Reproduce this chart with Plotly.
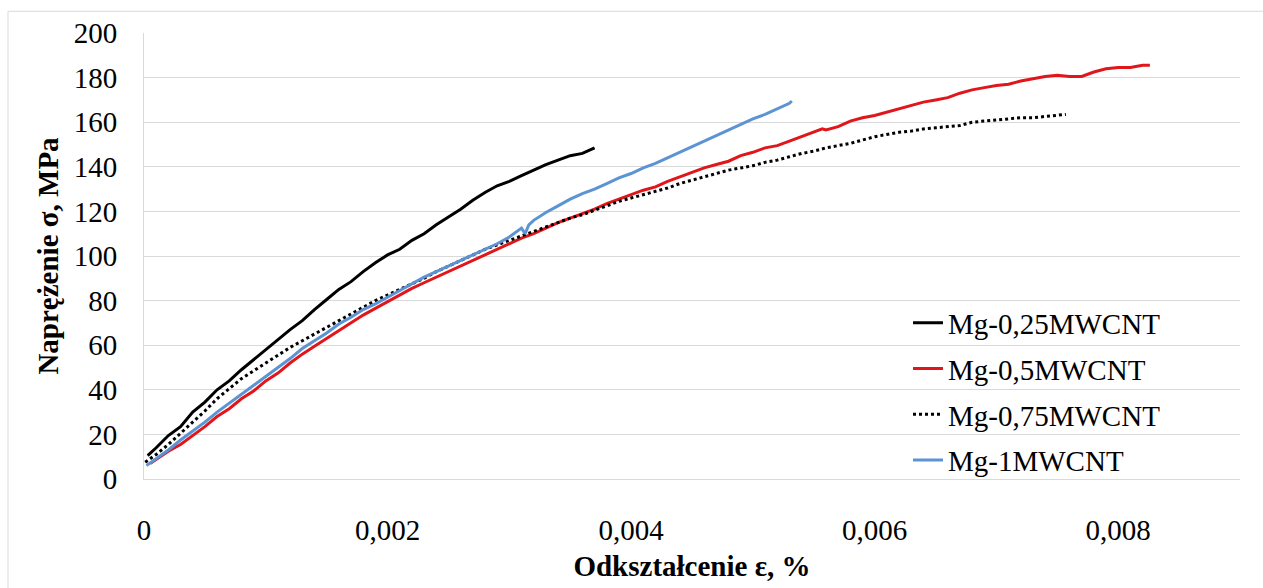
import plotly.graph_objects as go

# Stress-strain curves of Mg composites with MWCNT additions
names = ["Mg-0,25MWCNT", "Mg-0,5MWCNT", "Mg-0,75MWCNT", "Mg-1MWCNT"]

eps_025 = [0.00003, 0.0001, 0.0002, 0.0003, 0.0004, 0.0005, 0.0006, 0.0007, 0.0008, 0.0009,
           0.001, 0.0011, 0.0012, 0.0013, 0.0014, 0.0015, 0.0016, 0.0017, 0.0018, 0.0019,
           0.002, 0.0021, 0.0022, 0.0023, 0.0024, 0.0025, 0.0026, 0.0027, 0.0028, 0.0029,
           0.003, 0.0031, 0.0032, 0.0033, 0.0034, 0.0035, 0.0036, 0.0037]
sig_025 = [10.5, 14.0, 19.5, 23.5, 30.0, 34.5, 40.0, 44.0, 49.0, 53.5,
           58.0, 62.5, 67.0, 71.0, 76.0, 80.5, 85.0, 88.5, 93.0, 97.0,
           100.5, 103.0, 107.0, 110.0, 114.0, 117.5, 121.0, 125.0, 128.5, 131.5,
           133.5, 136.0, 138.5, 141.0, 143.0, 145.0, 146.0, 148.5]

eps_05 = [0.00005, 0.0002, 0.0003, 0.0004, 0.0005, 0.0006, 0.0007, 0.0008, 0.0009, 0.001,
          0.0011, 0.0012, 0.0013, 0.0014, 0.0015, 0.0016, 0.0017, 0.0018, 0.0019, 0.002,
          0.0021, 0.0022, 0.0023, 0.0024, 0.0025, 0.0026, 0.0027, 0.0028, 0.0029, 0.003,
          0.0031, 0.0032, 0.0033, 0.0034, 0.0035, 0.0036, 0.0037, 0.0038, 0.0039, 0.004,
          0.0041, 0.0042, 0.0043, 0.0044, 0.0045, 0.0046, 0.0047, 0.0048, 0.0049, 0.005,
          0.0051, 0.0052, 0.0053, 0.0054, 0.0055, 0.00557, 0.0056, 0.0057, 0.0058, 0.0059,
          0.006, 0.0061, 0.0062, 0.0063, 0.0064, 0.0065, 0.0066, 0.0067, 0.0068, 0.0069,
          0.007, 0.0071, 0.0072, 0.0073, 0.0074, 0.0075, 0.0076, 0.0077, 0.0078, 0.0079,
          0.008, 0.0081, 0.0082, 0.00826]
sig_05 = [7.0, 12.5, 15.5, 19.5, 23.5, 28.0, 31.5, 36.0, 39.5, 44.0,
          47.5, 52.0, 56.0, 59.5, 63.0, 66.5, 70.0, 73.5, 76.5, 79.5,
          82.5, 85.5, 88.0, 90.5, 93.0, 95.5, 98.0, 100.5, 103.0, 105.5,
          108.0, 110.0, 112.5, 115.0, 117.0, 119.0, 121.0, 123.5, 125.5, 127.5,
          129.5, 131.0, 133.5, 135.5, 137.5, 139.5, 141.0, 142.5, 145.0, 146.5,
          148.5, 149.5, 151.5, 153.5, 155.5, 157.0, 156.5, 158.0, 160.5, 162.0,
          163.0, 164.5, 166.0, 167.5, 169.0, 170.0, 171.0, 173.0, 174.5, 175.5,
          176.5, 177.0, 178.5, 179.5, 180.5, 181.0, 180.5, 180.5, 182.5, 184.0,
          184.5, 184.5, 185.5, 185.5]

eps_075 = [0.00001, 0.0001, 0.0002, 0.0003, 0.0004, 0.0005, 0.0006, 0.0007, 0.0008, 0.0009,
           0.001, 0.0011, 0.0012, 0.0013, 0.0014, 0.0015, 0.0016, 0.0017, 0.0018, 0.0019,
           0.002, 0.0021, 0.0022, 0.0023, 0.0024, 0.0025, 0.0026, 0.0027, 0.0028, 0.0029,
           0.003, 0.0031, 0.0032, 0.0033, 0.0034, 0.0035, 0.0036, 0.0037, 0.0038, 0.0039,
           0.004, 0.0041, 0.0042, 0.0043, 0.0044, 0.0045, 0.0046, 0.0047, 0.0048, 0.0049,
           0.005, 0.0051, 0.0052, 0.0053, 0.0054, 0.0055, 0.0056, 0.0057, 0.0058, 0.0059,
           0.006, 0.0061, 0.0062, 0.0063, 0.0064, 0.0065, 0.0066, 0.0067, 0.0068, 0.0069,
           0.007, 0.0071, 0.0072, 0.0073, 0.0074, 0.0075, 0.00757]
sig_075 = [7.5, 11.0, 15.5, 20.5, 25.5, 30.5, 36.0, 40.5, 45.0, 48.5,
           52.0, 55.5, 59.0, 62.0, 65.0, 68.0, 71.0, 74.0, 77.0, 80.0,
           82.5, 85.0, 87.5, 90.0, 93.0, 95.5, 98.0, 100.5, 103.0, 105.0,
           107.0, 109.0, 111.0, 113.0, 115.0, 117.0, 118.5, 120.5, 122.5, 124.5,
           126.0, 127.5, 129.0, 130.5, 132.5, 134.0, 135.5, 137.0, 138.5, 139.5,
           140.5, 142.0, 143.0, 144.5, 146.0, 147.0, 148.5, 149.5, 150.5, 152.0,
           153.5, 154.5, 155.5, 156.0, 157.0, 157.5, 158.0, 158.5, 160.0, 160.5,
           161.0, 161.5, 162.0, 162.0, 162.5, 163.0, 163.5]

eps_1 = [0.00002, 0.0001, 0.0002, 0.0003, 0.0004, 0.0005, 0.0006, 0.0007, 0.0008, 0.0009,
         0.001, 0.0011, 0.0012, 0.0013, 0.0014, 0.0015, 0.0016, 0.0017, 0.0018, 0.0019,
         0.002, 0.0021, 0.0022, 0.0023, 0.0024, 0.0025, 0.0026, 0.0027, 0.0028, 0.0029,
         0.003, 0.0031, 0.00313, 0.00316, 0.0032, 0.0033, 0.0034, 0.0035, 0.0036, 0.0037,
         0.0038, 0.0039, 0.004, 0.0041, 0.0042, 0.0043, 0.0044, 0.0045, 0.0046, 0.0047,
         0.0048, 0.0049, 0.005, 0.0051, 0.0052, 0.0053, 0.00532]
sig_1 = [6.0, 9.0, 13.0, 17.5, 21.5, 25.5, 30.0, 34.0, 38.0, 42.0,
         46.0, 50.0, 54.0, 58.5, 62.0, 65.5, 69.5, 72.5, 76.0, 78.5,
         81.5, 84.5, 87.5, 90.5, 93.0, 95.5, 98.0, 100.5, 103.0, 105.5,
         108.5, 112.5, 110.0, 114.0, 116.0, 119.5, 122.5, 125.5, 128.0, 130.0,
         132.5, 135.0, 137.0, 139.5, 141.5, 144.0, 146.5, 149.0, 151.5, 154.0,
         156.5, 159.0, 161.5, 163.5, 166.0, 168.5, 169.5]

x_ticks = [0, 0.002, 0.004, 0.006, 0.008]
x_tick_text = ["0", "0,002", "0,004", "0,006", "0,008"]
y_ticks = [0, 20, 40, 60, 80, 100, 120, 140, 160, 180, 200]

series = [
    (names[0], eps_025, sig_025, "#000000", "solid"),
    (names[1], eps_05, sig_05, "#e0161a", "solid"),
    (names[2], eps_075, sig_075, "#000000", "dot"),
    (names[3], eps_1, sig_1, "#5b93d3", "solid"),
]

FONT = "Liberation Serif"
GRID = "#d9d9d9"

fig = go.Figure()
for name, xs, ys, color, dash in series:
    fig.add_trace(go.Scatter(
        x=xs, y=ys, mode="lines", name=name, legendgroup=name,
        line=dict(color=color, width=3, dash=dash),
    ))

fig.update_layout(
    width=1263, height=588,
    margin=dict(l=144, r=23, t=33, b=103),
    paper_bgcolor="white", plot_bgcolor="white",
    font=dict(family=FONT, size=29, color="#000000"),
    showlegend=True,
    legend=dict(
        x=(908 - 144) / 1096, y=(485 - 301) / 452,
        xanchor="left", yanchor="top",
        bgcolor="rgba(0,0,0,0)", borderwidth=0,
        font=dict(family=FONT, size=29, color="#000000"),
        tracegroupgap=5, itemwidth=30,
    ),
    xaxis=dict(
        range=[0, 0.009], tickvals=x_ticks, ticktext=x_tick_text,
        showgrid=False, zeroline=False,
        showline=True, linecolor=GRID, linewidth=1,
        ticks="", ticklabelstandoff=25,
        tickfont=dict(family=FONT, size=29),
        title=dict(text="<b>Odkształcenie ε, %</b>", standoff=10,
                   font=dict(family=FONT, size=29)),
    ),
    yaxis=dict(
        range=[0, 200], tickvals=y_ticks,
        showgrid=True, gridcolor=GRID, gridwidth=1.3,
        zeroline=False,
        showline=True, linecolor=GRID, linewidth=1,
        ticks="", ticklabelstandoff=20,
        tickfont=dict(family=FONT, size=29),
        title=dict(text="<b>Naprężenie σ, MPa</b>", standoff=6,
                   font=dict(family=FONT, size=29)),
    ),
    shapes=[
        dict(type="rect", xref="paper", yref="paper",
             x0=(8 - 144) / 1096, x1=(1275 - 144) / 1096,
             y0=(485 - 600) / 452, y1=(485 - 11) / 452,
             line=dict(color=GRID, width=1), layer="below"),
    ],
)

fig.write_html("out.html")
